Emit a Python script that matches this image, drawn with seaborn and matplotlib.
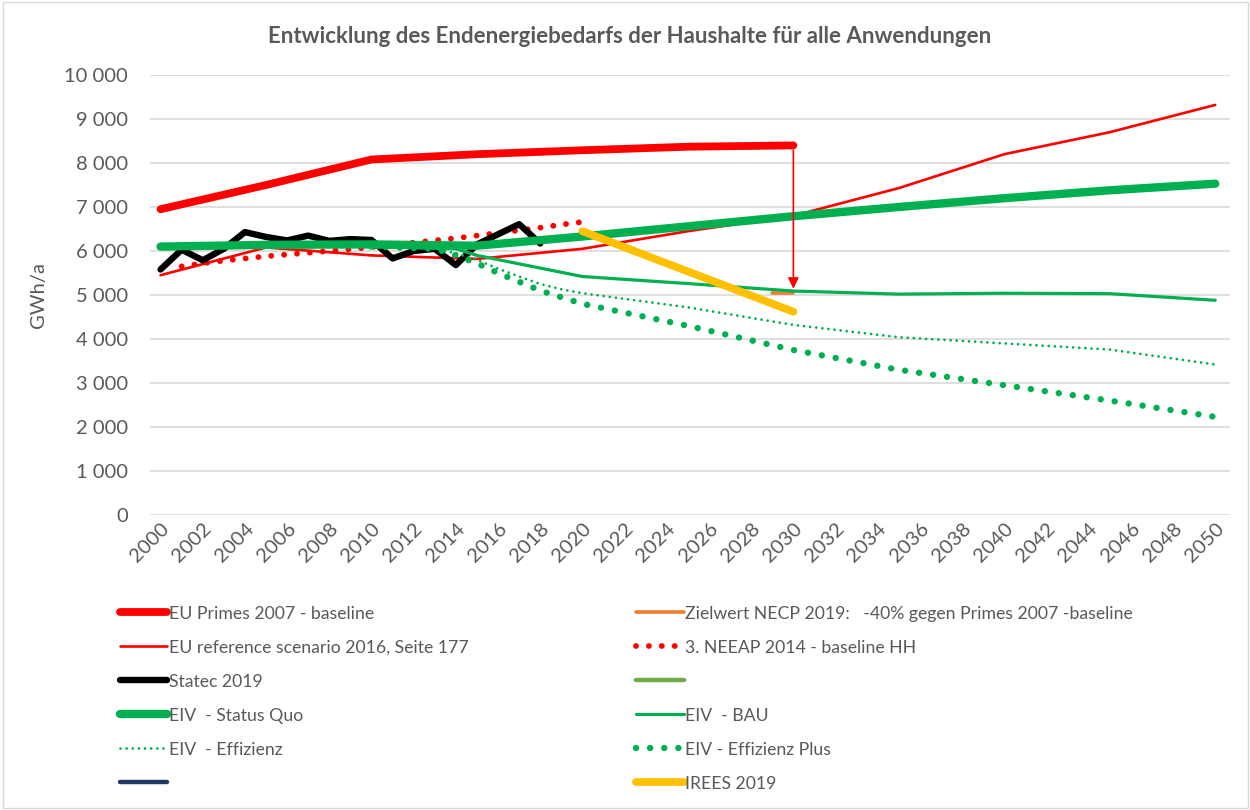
import matplotlib
matplotlib.use("Agg")
import matplotlib.pyplot as plt
import seaborn as sns
from matplotlib.lines import Line2D
from matplotlib.patches import Rectangle
from matplotlib.ticker import FuncFormatter

# --- data (GWh/a) ---
primes_years = [2000, 2005, 2010, 2015, 2020, 2025, 2030]
primes = [6950, 7500, 8080, 8200, 8290, 8370, 8400]

ziel_years = [2029, 2030]
ziel = [5040, 5040]

ref_years = [2000, 2005, 2010, 2015, 2020, 2025, 2030, 2035, 2040, 2045, 2050]
ref2016 = [5450, 6080, 5900, 5820, 6050, 6450, 6800, 7430, 8200, 8700, 9320]

neeap_years = list(range(2001, 2021))
neeap = [5650, 5720, 5780, 5830, 5880, 5920, 5960, 6000, 6040, 6090,
         6140, 6190, 6240, 6290, 6350, 6410, 6470, 6530, 6600, 6660]

statec_years = list(range(2000, 2019))
statec = [5580, 6030, 5790, 6050, 6430, 6320, 6240, 6350, 6230, 6270,
          6250, 5830, 6000, 6050, 5680, 6150, 6380, 6610, 6170]

sq_years = [2000, 2005, 2010, 2015, 2020, 2025, 2030, 2035, 2040, 2045, 2050]
status_quo = [6100, 6140, 6150, 6120, 6330, 6560, 6790, 7000, 7200, 7380, 7530]

bau_years = [2010, 2014, 2015, 2020, 2025, 2030, 2035, 2040, 2045, 2050]
bau = [6100, 6050, 5900, 5420, 5260, 5090, 5020, 5040, 5030, 4880]

eff_years = [2010, 2013, 2014, 2015, 2016, 2017, 2018, 2019, 2020,
             2025, 2030, 2035, 2040, 2045, 2050]
effizienz = [6100, 6050, 5950, 5800, 5600, 5420, 5250, 5130, 5040,
             4720, 4320, 4040, 3900, 3760, 3420]
eff_plus = [6100, 6050, 5900, 5720, 5500, 5300, 5100, 4950, 4800,
            4300, 3750, 3300, 2950, 2600, 2230]

irees_years = [2020, 2030]
irees = [6450, 4620]

RED = "#FF0000"
GREEN = "#00B050"
GREY = "#595959"

sns.set_theme(style="white")
plt.rcParams["font.family"] = ["Lato", "DejaVu Sans"]

fig, ax = plt.subplots(figsize=(12.5, 8.1), dpi=100)
fig.subplots_adjust(left=0.12, right=0.984, top=0.9074, bottom=0.3642)


def draw(x, y, **kw):
    sns.lineplot(x=x, y=y, ax=ax, **kw)
    return ax.lines[-1]


h_primes = draw(primes_years, primes, color=RED, linewidth=5.6, solid_capstyle="round")
h_ziel = draw(ziel_years, ziel, color="#ED7D31", linewidth=2.6)
h_ref = draw(ref_years, ref2016, color=RED, linewidth=1.9)
h_neeap = draw(neeap_years, neeap, color=RED, linewidth=4.2,
               linestyle=(0, (0.01, 2.2)), dash_capstyle="round")
h_statec = draw(statec_years, statec, color="black", linewidth=4.6, solid_capstyle="round")
h_sq = draw(sq_years, status_quo, color=GREEN, linewidth=6.0, solid_capstyle="round")
h_bau = draw(bau_years, bau, color=GREEN, linewidth=2.3)
h_eff = draw(eff_years, effizienz, color=GREEN, linewidth=2.0,
             linestyle=(0, (0.01, 2.2)), dash_capstyle="round")
h_effp = draw(eff_years, eff_plus, color=GREEN, linewidth=4.6,
              linestyle=(0, (0.01, 2.2)), dash_capstyle="round")
h_irees = draw(irees_years, irees, color="#FFC000", linewidth=5.6, solid_capstyle="round")

# arrow: Primes 2007 baseline -> target value 2030
ax.annotate("", xy=(2030, 5080), xytext=(2030, 8360),
            arrowprops=dict(arrowstyle="-|>", color=RED, lw=1.2, mutation_scale=16))

ax.set_xlim(1999.5, 2050.7)
ax.set_ylim(0, 10000)
ax.set_xticks(range(2000, 2051, 2))
ax.set_yticks(range(0, 10001, 1000))
ax.yaxis.set_major_formatter(FuncFormatter(lambda v, p: f"{int(v):,}".replace(",", " ")))
ax.tick_params(axis="both", length=0, labelsize=14.5, labelcolor=GREY)
ax.tick_params(axis="y", pad=16)
plt.setp(ax.get_xticklabels(), rotation=45, ha="right", rotation_mode="anchor")
ax.grid(axis="y", color="#D9D9D9", linewidth=1.2)
ax.grid(axis="x", visible=False)
for s in ax.spines.values():
    s.set_visible(False)
ax.set_xlabel("")
ax.set_ylabel("GWh/a", fontsize=14.5, color=GREY, labelpad=12)

fig.text(0.504, 0.955, "Entwicklung des Endenergiebedarfs der Haushalte für alle Anwendungen",
         ha="center", va="center", fontsize=16, fontweight="bold", color=GREY)

# legend: two columns placed separately
blank_green = Line2D([], [], color="#70AD47", linewidth=3.2)
blank_navy = Line2D([], [], color="#203864", linewidth=3.2)

left_h = [h_primes, h_ref, h_statec, h_sq, h_eff, blank_navy]
left_l = ["EU Primes 2007 - baseline", "EU reference scenario 2016, Seite 177",
          "Statec 2019", "EIV  - Status Quo", "EIV  - Effizienz", " "]
right_h = [h_ziel, h_neeap, blank_green, h_bau, h_effp, h_irees]
right_l = ["Zielwert NECP 2019:   -40% gegen Primes 2007 -baseline",
           "3. NEEAP 2014 - baseline HH", " ", "EIV  - BAU",
           "EIV - Effizienz Plus", "IREES 2019"]

leg_kw = dict(frameon=False, fontsize=12.7, handlelength=2.7, handletextpad=0.1,
              labelspacing=1.02, labelcolor=GREY, loc="upper left")
fig.legend(left_h, left_l, bbox_to_anchor=(0.083, 0.272), **leg_kw)
fig.legend(right_h, right_l, bbox_to_anchor=(0.496, 0.272), **leg_kw)

fig.patches.append(Rectangle((0.002, 0.002), 0.996, 0.996, transform=fig.transFigure,
                             fill=False, edgecolor="#D9D9D9", linewidth=1))

fig.savefig("out.png", dpi=100)
